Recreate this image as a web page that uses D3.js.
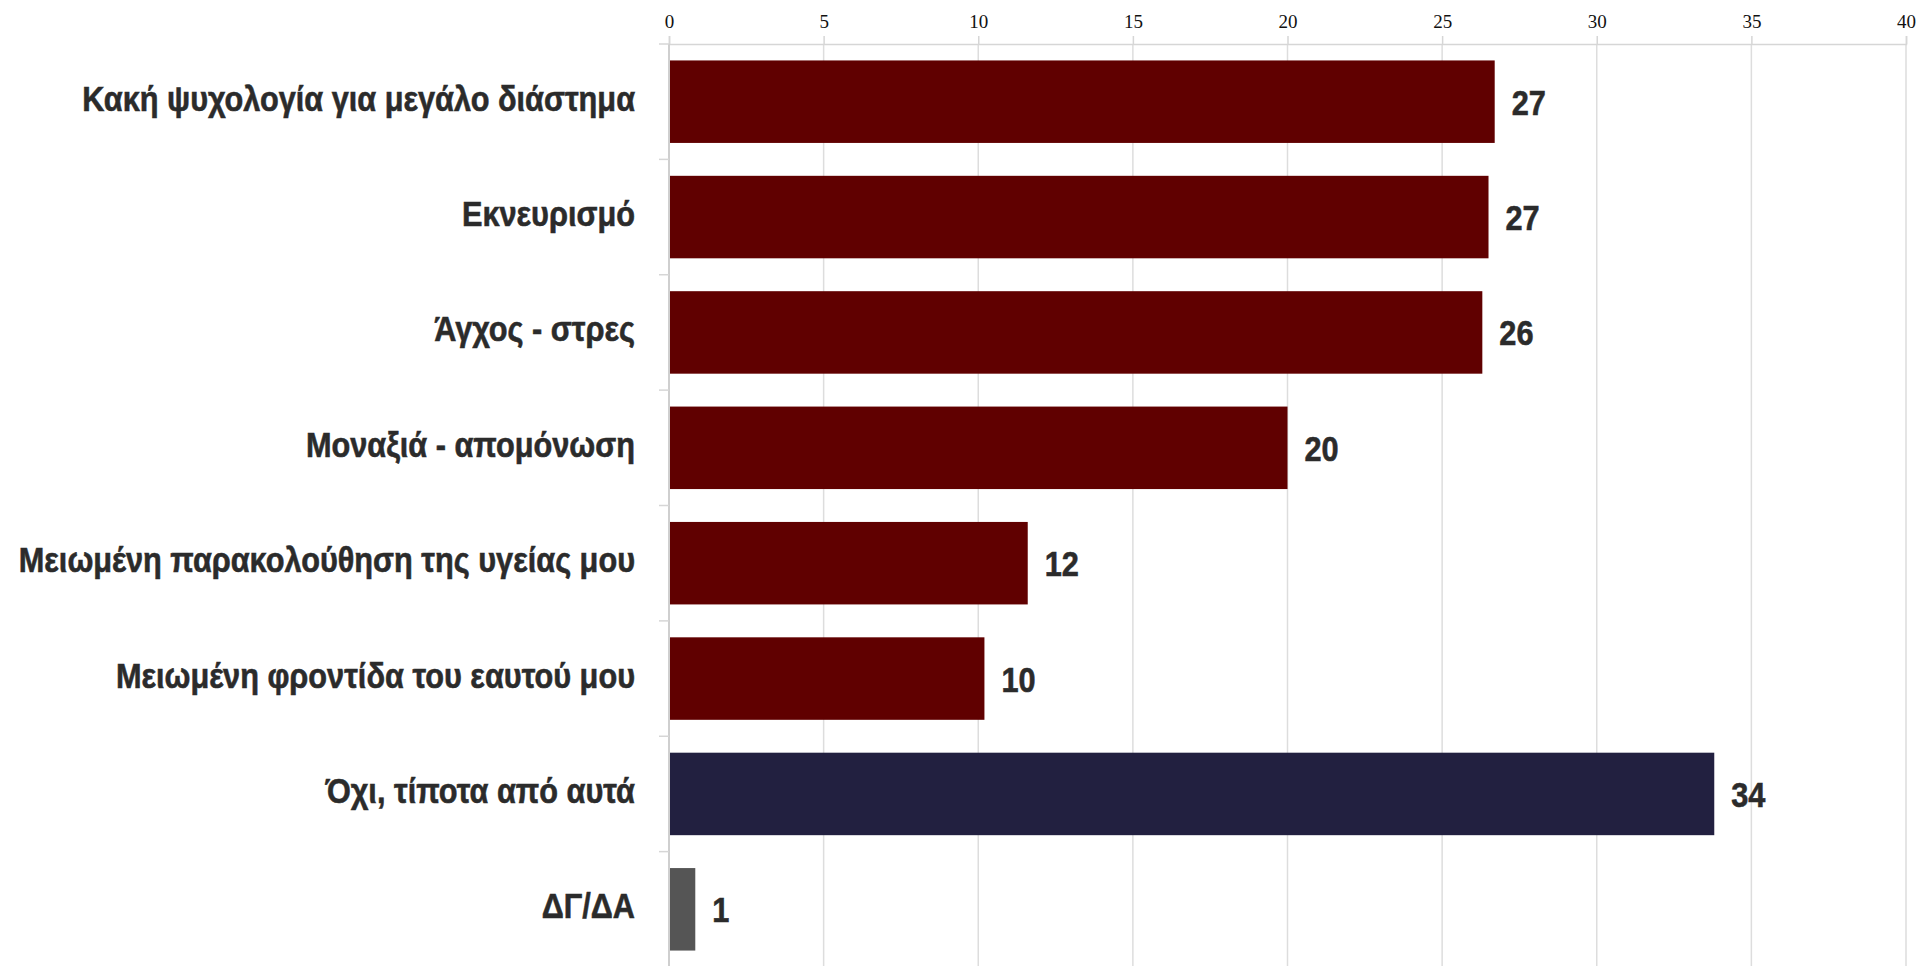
<!DOCTYPE html>
<html>
<head>
<meta charset="utf-8">
<script src="https://cdn.jsdelivr.net/npm/d3@7"></script>
<style>
  html, body { margin: 0; padding: 0; background: #ffffff; }
  svg { display: block; }
</style>
</head>
<body>
<svg id="chart" width="1931" height="966"></svg>
<script>
const categories = [
  "Κακή ψυχολογία για μεγάλο διάστημα",
  "Εκνευρισμό",
  "Άγχος - στρες",
  "Μοναξιά - απομόνωση",
  "Μειωμένη παρακολούθηση της υγείας μου",
  "Μειωμένη φροντίδα του εαυτού μου",
  "Όχι, τίποτα από αυτά",
  "ΔΓ/ΔΑ"
];
const values = [26.7, 26.5, 26.3, 20.0, 11.6, 10.2, 33.8, 0.85];
const valueLabels = ["27", "27", "26", "20", "12", "10", "34", "1"];
const barColors = ["#600000", "#600000", "#600000", "#600000", "#600000", "#600000", "#222040", "#555555"];
const xTicks = [0, 5, 10, 15, 20, 25, 30, 35, 40];

(function () {
const svg = d3.select("#chart");
const mLeft = 669, mRight = 1906, mTop = 44, mBottom = 967;

const x = d3.scaleLinear().domain([0, 40]).range([mLeft, mRight]);
const y = d3.scaleBand().domain(categories).range([mTop, mBottom]).paddingInner(0.285).paddingOuter(0.1425);

// gridlines
svg.append("g").selectAll("line").data(xTicks).join("line")
  .attr("x1", d => x(d)).attr("x2", d => x(d))
  .attr("y1", mTop).attr("y2", 966)
  .attr("stroke", "#dddddd").attr("stroke-width", 1.5);

// top axis
const xAxis = svg.append("g").attr("transform", `translate(0,${mTop})`)
  .call(d3.axisTop(x).tickValues(xTicks).tickSize(8).tickPadding(8));
xAxis.select(".domain").attr("stroke", "#d6d6d6").attr("stroke-width", 1.5);
xAxis.selectAll(".tick line").attr("stroke", "#d6d6d6").attr("stroke-width", 1.5);
xAxis.selectAll(".tick text")
  .attr("font-family", "'Liberation Serif', 'DejaVu Serif', serif")
  .attr("font-size", 19).attr("fill", "#111");

// bars
svg.append("g").selectAll("rect").data(categories).join("rect")
  .attr("x", x(0))
  .attr("y", d => y(d))
  .attr("width", (d, i) => x(values[i]) - x(0))
  .attr("height", y.bandwidth())
  .attr("fill", (d, i) => barColors[i]);

// left axis with ticks at band boundaries
const bounds = categories.map(c => y(c) - y.step() * y.paddingInner() / 2);
const yAxisG = svg.append("g");
yAxisG.append("line")
  .attr("x1", x(0)).attr("x2", x(0)).attr("y1", mTop).attr("y2", 966)
  .attr("stroke", "#cfcfcf").attr("stroke-width", 2);
yAxisG.selectAll("line.tk").data(bounds).join("line").attr("class", "tk")
  .attr("x1", x(0) - 10).attr("x2", x(0))
  .attr("y1", d => d).attr("y2", d => d)
  .attr("stroke", "#d6d6d6").attr("stroke-width", 1.5);

const labelFont = "'Liberation Sans', Arial, sans-serif";
const fs = 36;

// category labels
const catText = svg.append("g").selectAll("text").data(categories).join("text")
  .attr("text-anchor", "end")
  .attr("font-family", labelFont)
  .attr("font-weight", "bold")
  .attr("font-size", fs)
  .attr("fill", "#2b2b2b")
  .attr("stroke", "#2b2b2b").attr("stroke-width", 0.6)
  .text(d => d);

// condensed look: horizontal squeeze fitted to the widest label
const w0 = catText.nodes()[0].getComputedTextLength();
const sx = w0 > 0 ? 553 / w0 : 0.82;

catText.attr("transform", d => `translate(${x(0) - 34},${y(d) + y.bandwidth() / 2 + 9}) scale(${sx},1)`);

// value labels
svg.append("g").selectAll("text").data(categories).join("text")
  .attr("font-family", labelFont)
  .attr("font-weight", "bold")
  .attr("font-size", fs)
  .attr("fill", "#2b2b2b")
  .attr("stroke", "#2b2b2b").attr("stroke-width", 0.6)
  .attr("transform", (d, i) => `translate(${x(values[i]) + 17},${y(d) + y.bandwidth() / 2 + 13}) scale(${sx},1)`)
  .text((d, i) => valueLabels[i]);
})();
</script>
</body>
</html>
